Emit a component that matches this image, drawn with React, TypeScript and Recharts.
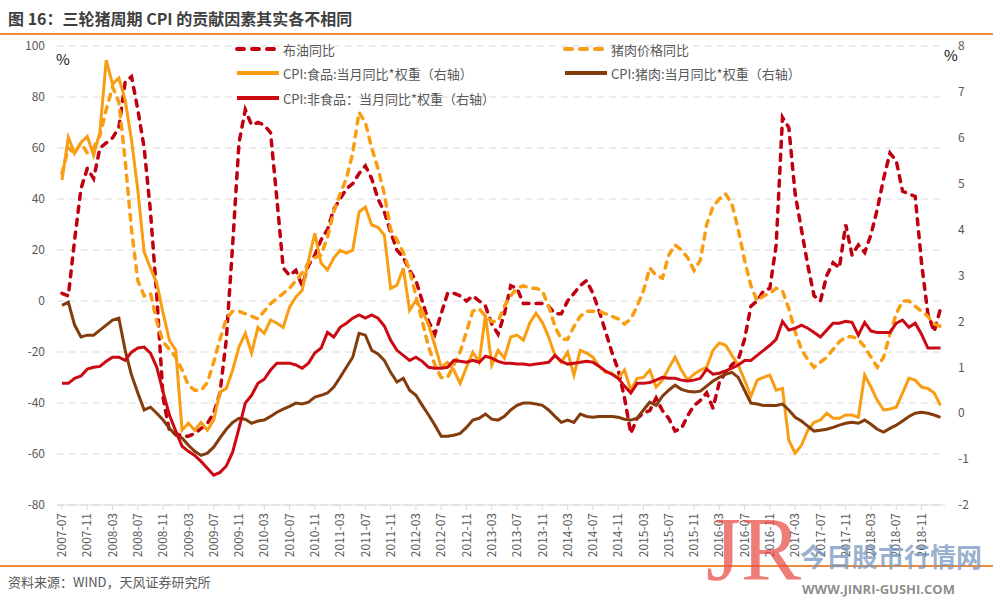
import { CartesianGrid, Line, LineChart, XAxis, YAxis } from "recharts"

// monthly categories 2007-07 .. 2019-02
function buildMonths(startYear: number, startMonth: number, count: number) {
  const out: string[] = []
  let y = startYear
  let m = startMonth
  for (let k = 0; k < count; k++) {
    out.push(`${y}-${String(m).padStart(2, "0")}`)
    m++
    if (m > 12) {
      m = 1
      y++
    }
  }
  return out
}
const months = buildMonths(2007, 7, 140)

// left axis, %
const brentYoY = [
  3, 2, 24, 44, 52, 48, 60, 62, 64, 68,
  86, 88, 75, 60, 35, 2, -38, -51, -52, -53,
  -53, -52, -50, -48, -44, -36, -15, 22, 62, 75,
  69, 70, 69, 66, 40, 13, 10, 12, 6, 14,
  18, 24, 28, 36, 40, 44, 46, 50, 53, 48,
  40, 35, 27, 20, 17, 12, 8, 0, -8, -13,
  -5, 3, 3, 2, 0, 2, 0, -2, -9, -13,
  -5, 6, 5, -1, -1, -1, -1, -2, -5, -5,
  0, 3, 6, 8, 3, -4, -12, -20, -27, -38,
  -52, -46, -44, -43, -38, -43, -46, -51, -50, -45,
  -41, -39, -36, -42, -32, -28, -25, -23, -15, -2,
  0, 4, 5, 22, 72, 68, 42, 28, 14, 2,
  0, 10, 15, 13, 30, 18, 22, 19, 26, 36,
  48, 58, 55, 43, 42, 41, 15, -5, -12, -3,
]
const porkYoY = [
  50, 60, 58, 62, 58, 60, 65, 75, 84, 78,
  55, 28, 8, 2, 3, -8, -16, -19, -22, -27,
  -33, -35, -35, -32, -24, -15, -7, -4, -4, -5,
  -6, -7, -4, -1, 1, 3, 5, 8, 11, 15,
  17, 18, 25, 35, 42, 48, 58, 74, 70, 60,
  52, 42, 28, 24, 19, 12, 2, -8, -18, -25,
  -30, -30, -25, -20, -12, -4, -3, -6, -8, -8,
  -2, 2, 5, 6, 5, 5, 4, -2, -10, -15,
  -15, -10, -6, -4, -4, -4, -5, -6, -7, -9,
  -7, -2, 4, 13, 10, 9, 18, 22, 20, 17,
  12, 16, 30, 37, 40, 42, 38, 28, 16, 6,
  0, 2, 3, 5, 4, -3, -12, -19, -23, -26,
  -24, -22, -19, -16, -14, -14, -15, -18, -22, -26,
  -22, -13, -5, 0, 0, -2, -4, -6, -9, -10,
]

// right axis, %
const cpiFood = [
  5.08, 6.01, 5.66, 5.9, 6.03, 5.62, 6.13, 7.69, 7.17, 7.3,
  6.82, 5.95, 4.86, 3.51, 3.16, 2.83, 2.18, 1.59, 1.37, -0.37,
  -0.22, -0.37, -0.2, -0.37, -0.15, 0.46, 0.54, 0.94, 1.44, 1.74,
  1.31, 1.87, 1.74, 2.03, 1.96, 1.87, 2.31, 2.53, 2.68, 3.33,
  3.92, 3.27, 3.12, 3.38, 3.55, 3.49, 3.55, 4.38, 4.49, 4.1,
  4.05, 3.88, 2.72, 2.79, 3.16, 2.24, 2.46, 2.24, 1.92, 1.48,
  1.0, 1.11, 0.94, 0.65, 1.0, 1.33, 1.11, 2.14, 1.05, 1.37,
  1.2, 1.66, 1.7, 1.59, 1.96, 2.18, 1.98, 1.66, 1.26, 1.11,
  1.33, 0.83, 1.37, 1.31, 1.22, 1.02, 0.89, 0.87, 0.76, 0.94,
  0.5, 0.76, 0.78, 0.94, 0.57, 0.72, 0.98, 1.22, 0.94, 0.72,
  0.85, 0.94, 1.0, 1.37, 1.53, 1.48, 1.26, 1.05, 0.72, 0.37,
  0.72, 0.78, 0.83, 0.5, 0.54, -0.59, -0.87, -0.7, -0.37, -0.2,
  -0.15, 0.0, -0.11, -0.11, -0.04, -0.04, -0.09, 0.83, 0.57, 0.28,
  0.07, 0.09, 0.13, 0.44, 0.76, 0.72, 0.57, 0.54, 0.44, 0.17,
]
const cpiPork = [
  2.35, 2.42, 1.92, 1.66, 1.7, 1.7, 1.81, 1.92, 2.03, 2.07,
  1.37, 0.83, 0.44, 0.07, 0.13, 0.0, -0.15, -0.33, -0.48, -0.54,
  -0.7, -0.83, -0.92, -0.87, -0.74, -0.54, -0.35, -0.2, -0.11, -0.13,
  -0.22, -0.17, -0.15, -0.07, 0.02, 0.09, 0.15, 0.22, 0.2, 0.24,
  0.35, 0.39, 0.44, 0.57, 0.78, 1.0, 1.22, 1.74, 1.7, 1.37,
  1.29, 1.15, 0.89, 0.68, 0.76, 0.5, 0.39, 0.17, -0.04, -0.26,
  -0.5, -0.5, -0.48, -0.44, -0.31, -0.15, -0.11, -0.02, -0.13, -0.15,
  -0.07, 0.07, 0.17, 0.22, 0.22, 0.2, 0.17, 0.07, -0.07, -0.2,
  -0.15, -0.2, -0.02, -0.07, -0.09, -0.07, -0.07, -0.07, -0.09, -0.13,
  -0.15, -0.11, 0.07, 0.24, 0.17, 0.37, 0.5, 0.61, 0.52, 0.48,
  0.46, 0.48, 0.59, 0.7, 0.78, 0.85, 0.89, 0.78, 0.5, 0.22,
  0.2, 0.17, 0.17, 0.17, 0.2, 0.07, -0.09, -0.17, -0.28, -0.39,
  -0.37, -0.35, -0.31, -0.26, -0.22, -0.2, -0.22, -0.15, -0.24, -0.35,
  -0.41, -0.33, -0.26, -0.17, -0.07, 0.0, 0.02, 0.0, -0.04, -0.09,
]
const cpiNonFood = [
  0.65, 0.65, 0.76, 0.81, 0.96, 1.0, 1.02, 1.13, 1.22, 1.22,
  1.15, 1.33, 1.42, 1.44, 1.31, 1.0, 0.46, -0.04, -0.39, -0.72,
  -0.83, -0.92, -1.05, -1.2, -1.35, -1.29, -1.15, -0.85, -0.33, 0.22,
  0.39, 0.65, 0.74, 0.94, 1.09, 1.09, 1.09, 1.05, 0.98, 1.09,
  1.31, 1.42, 1.76, 1.66, 1.87, 1.96, 2.07, 2.14, 2.07, 2.14,
  2.07, 1.9, 1.59, 1.37, 1.26, 1.15, 1.22, 1.13, 1.0, 0.98,
  0.98, 1.0, 1.15, 1.13, 1.11, 1.15, 1.11, 1.24, 1.2, 1.13,
  1.09, 1.09, 1.07, 1.07, 1.05, 1.07, 1.09, 1.11, 1.26, 1.13,
  1.07, 1.09, 1.11, 1.13, 1.11, 1.02, 0.92, 0.85, 0.76, 0.59,
  0.44, 0.65, 0.65, 0.67, 0.72, 0.78, 0.76, 0.76, 0.72, 0.7,
  0.72, 0.76, 0.96, 0.85, 0.87, 0.92, 0.98, 1.05, 1.15, 1.15,
  1.26, 1.37, 1.48, 1.61, 2.0, 1.81, 1.85, 1.92, 1.85, 1.76,
  1.66, 1.81, 1.96, 1.96, 2.0, 1.98, 1.7, 1.98, 1.79, 1.76,
  1.76, 1.76, 1.96, 2.03, 1.87, 1.96, 1.72, 1.42, 1.42, 1.42,
]

const leftTicks = [-80, -60, -40, -20, 0, 20, 40, 60, 80, 100]
const rightTicks = [-2, -1, 0, 1, 2, 3, 4, 5, 6, 7, 8]

const data = months.map((month, i) => ({
  month,
  brent: brentYoY[i],
  pork: porkYoY[i],
  food: cpiFood[i],
  porkCpi: cpiPork[i],
  nonFood: cpiNonFood[i],
}))

const RED_DASH = "#C00010"
const ORANGE = "#F99D12"
const BROWN = "#843C0C"
const RED = "#CC0A14"
const DASH = "6 7"

const legendItems = [
  { label: "布油同比", color: RED_DASH, dashed: true, x: 235, y: 49 },
  { label: "猪肉价格同比", color: ORANGE, dashed: true, x: 563, y: 49 },
  { label: "CPI:食品:当月同比*权重（右轴）", color: ORANGE, dashed: false, x: 235, y: 73 },
  { label: "CPI:猪肉:当月同比*权重（右轴）", color: BROWN, dashed: false, x: 563, y: 73 },
  { label: "CPI:非食品：当月同比*权重（右轴）", color: RED, dashed: false, x: 235, y: 98 },
]

const MonthTick = (props: any) => {
  const { x, y, payload } = props
  return (
    <g transform={`translate(${x},${y})`}>
      <text
        transform="rotate(-90)"
        textAnchor="end"
        dy="0.35em"
        x={-1}
        fontSize={12}
        fill="#595959"
      >
        {payload.value}
      </text>
    </g>
  )
}

const font = "'Noto Sans CJK SC', 'Noto Sans', sans-serif"

export default function App() {
  return (
    <div
      style={{
        position: "absolute",
        left: 0,
        top: 0,
        width: 993,
        height: 604,
        background: "#fff",
        fontFamily: font,
        overflow: "hidden",
      }}
    >
      <div
        style={{
          position: "absolute",
          left: 8,
          top: 6,
          fontSize: 16,
          fontWeight: 700,
          color: "#404040",
          whiteSpace: "nowrap",
        }}
      >
        图 16：三轮猪周期 CPI 的贡献因素其实各不相同
      </div>
      <div style={{ position: "absolute", left: 0, top: 33, width: 993, height: 2, background: "#EE8A3C" }} />

      <div style={{ position: "absolute", left: 0, top: 0 }}>
        <LineChart
          width={993}
          height={604}
          data={data}
          margin={{ top: 46, right: 8, bottom: 39, left: 12 }}
          style={{ fontFamily: font }}
        >
          <CartesianGrid
            yAxisId="left"
            vertical={false}
            stroke="#D9D9D9"
            strokeDasharray="7 5"
          />
          <XAxis
            dataKey="month"
            interval={3}
            height={60}
            padding={{ left: 5, right: 4.5 }}
            tick={<MonthTick />}
            tickSize={5}
            tickMargin={2}
            stroke="#D9D9D9"
          />
          <YAxis
            yAxisId="left"
            domain={[-80, 100]}
            ticks={leftTicks}
            width={45}
            axisLine={false}
            tickLine={false}
            tickSize={6}
            tickMargin={6}
            tick={{ fontSize: 12, fill: "#595959" }}
          />
          <YAxis
            yAxisId="right"
            orientation="right"
            domain={[-2, 8]}
            ticks={rightTicks}
            width={40}
            axisLine={false}
            tickLine={false}
            tickSize={6}
            tickMargin={7}
            tick={{ fontSize: 12, fill: "#595959" }}
          />
          <Line
            yAxisId="left"
            dataKey="brent"
            stroke={RED_DASH}
            strokeWidth={3.5}
            strokeDasharray={DASH}
            strokeLinecap="round"
            dot={false}
            isAnimationActive={false}
          />
          <Line
            yAxisId="left"
            dataKey="pork"
            stroke={ORANGE}
            strokeWidth={3.5}
            strokeDasharray={DASH}
            strokeLinecap="round"
            dot={false}
            isAnimationActive={false}
          />
          <Line
            yAxisId="right"
            dataKey="food"
            stroke={ORANGE}
            strokeWidth={3}
            dot={false}
            isAnimationActive={false}
          />
          <Line
            yAxisId="right"
            dataKey="porkCpi"
            stroke={BROWN}
            strokeWidth={3}
            dot={false}
            isAnimationActive={false}
          />
          <Line
            yAxisId="right"
            dataKey="nonFood"
            stroke={RED}
            strokeWidth={3}
            dot={false}
            isAnimationActive={false}
          />
        </LineChart>
      </div>

      <div style={{ position: "absolute", left: 56, top: 48, fontSize: 15, color: "#111" }}>%</div>
      <div style={{ position: "absolute", left: 944, top: 44, fontSize: 15, color: "#111" }}>%</div>

      {legendItems.map(item => (
        <div
          key={item.label}
          style={{
            position: "absolute",
            left: item.x,
            top: item.y - 10,
            height: 20,
            display: "flex",
            alignItems: "center",
            whiteSpace: "nowrap",
          }}
        >
          <svg width={46} height={10} style={{ display: "block" }}>
            <line
              x1={2}
              y1={5}
              x2={44}
              y2={5}
              stroke={item.color}
              strokeWidth={4}
              strokeDasharray={item.dashed ? "7 8" : undefined}
              strokeLinecap={item.dashed ? "round" : "butt"}
            />
          </svg>
          <span style={{ fontSize: 13, color: "#595959", marginLeft: 2 }}>{item.label}</span>
        </div>
      ))}

      <div style={{ position: "absolute", left: 0, top: 565, width: 993, height: 2, background: "#EE8A3C" }} />
      <div style={{ position: "absolute", left: 8, top: 572, fontSize: 13, color: "#595959" }}>
        资料来源：WIND，天风证券研究所
      </div>

      {/* watermark */}
      <div
        style={{
          position: "absolute",
          left: 706,
          top: 505,
          fontSize: 90,
          lineHeight: 1,
          fontFamily: "'Liberation Serif', serif",
          color: "rgba(232, 80, 74, 0.75)",
          pointerEvents: "none",
        }}
      >
        JR
      </div>
      <div
        style={{
          position: "absolute",
          left: 800,
          top: 543,
          fontSize: 26,
          fontWeight: 700,
          lineHeight: 1,
          color: "rgba(120, 150, 190, 0.75)",
          whiteSpace: "nowrap",
        }}
      >
        今日股市行情网
      </div>
      <div
        style={{
          position: "absolute",
          left: 802,
          top: 583,
          fontSize: 13,
          fontWeight: 700,
          lineHeight: 1,
          color: "rgba(120, 120, 120, 0.85)",
          whiteSpace: "nowrap",
          fontFamily: "'Open Sans', sans-serif",
        }}
      >
        WWW.JINRI-GUSHI.COM
      </div>
    </div>
  )
}
